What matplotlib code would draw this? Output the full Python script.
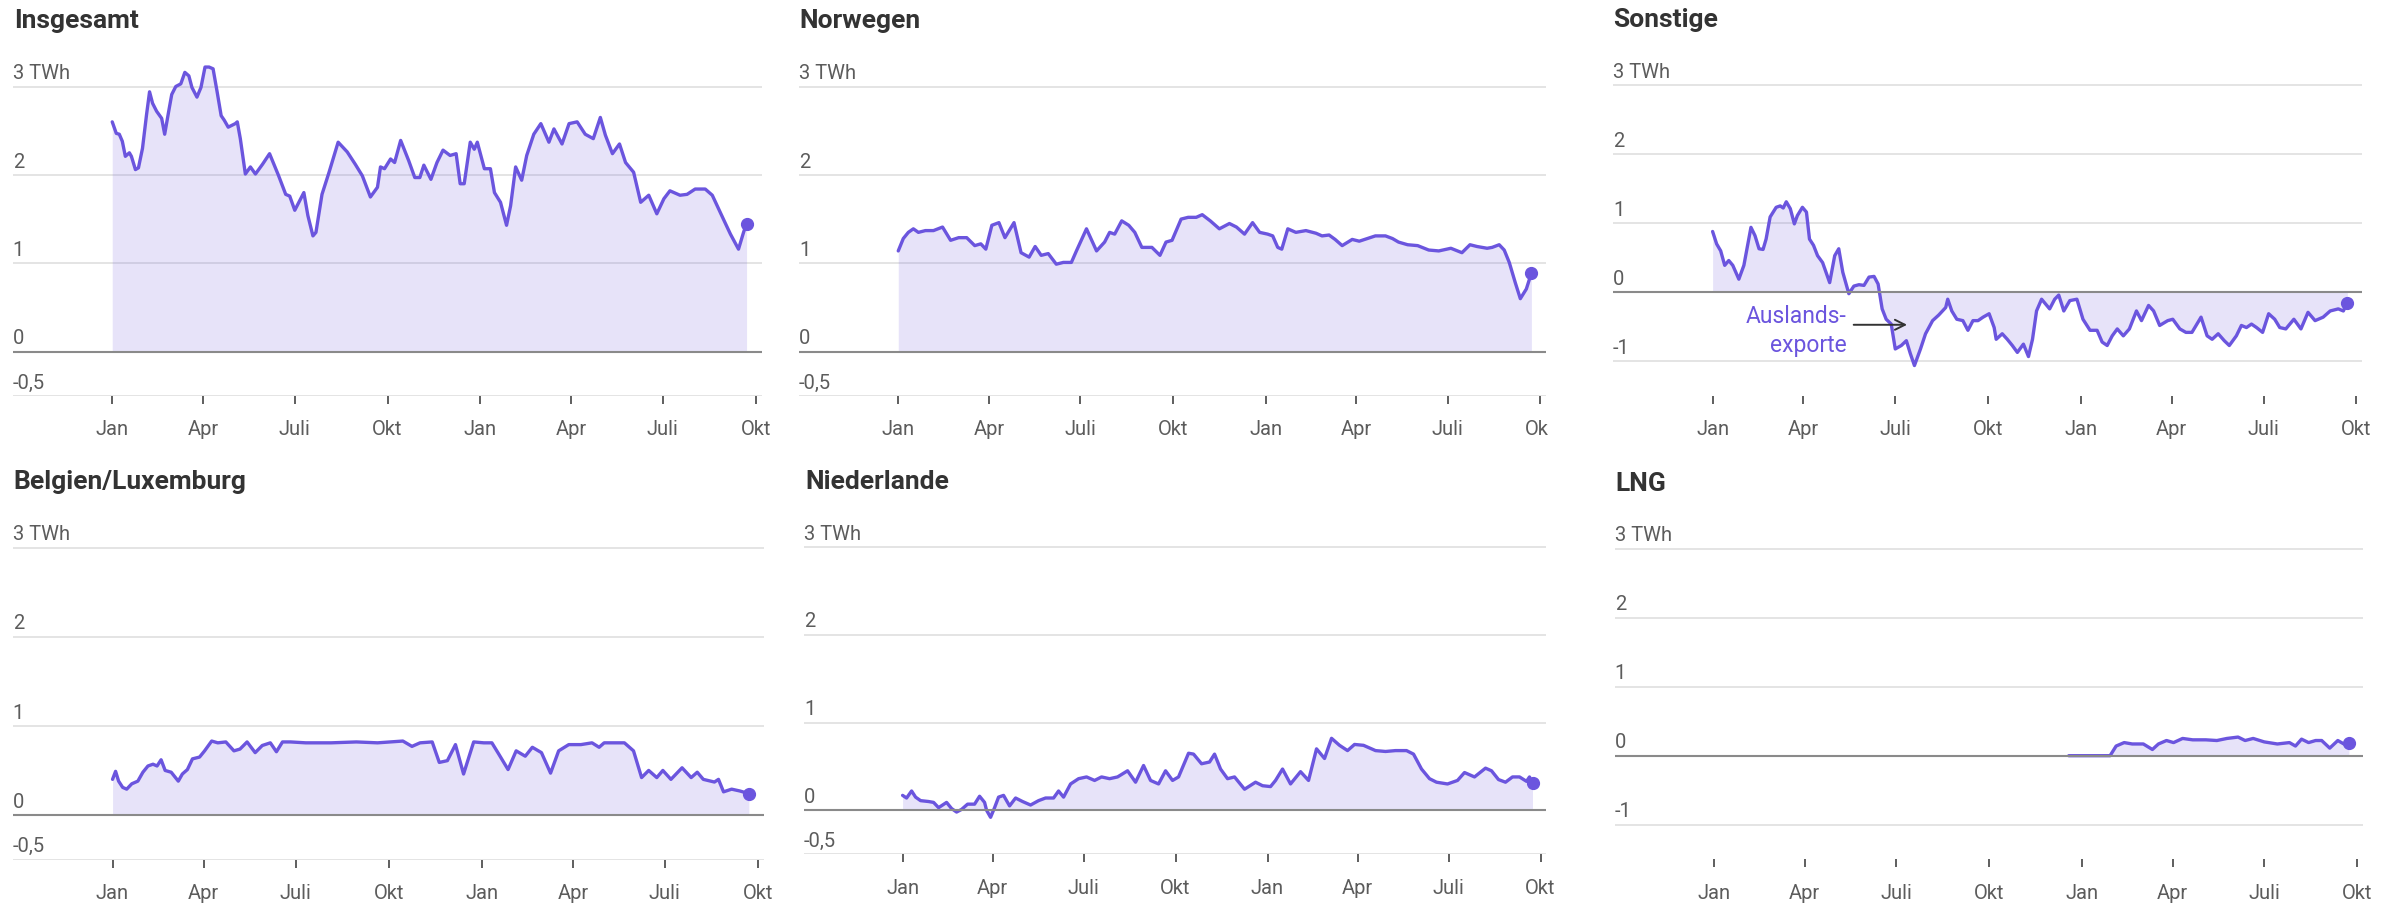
import matplotlib
matplotlib.use('Agg')
import matplotlib.pyplot as plt
from matplotlib.transforms import Bbox
import pandas as pd

plt.rcParams['font.family'] = ['Roboto', 'DejaVu Sans']

START = pd.Timestamp('2022-01-01')

titles = ['Insgesamt', 'Norwegen', 'Sonstige', 'Belgien/Luxemburg', 'Niederlande', 'LNG']

# days since 2022-01-01, values in TWh
ins_days = [0, 4, 7, 10, 13, 17, 19, 23, 26, 30, 34, 37, 40, 44, 49, 52, 56, 59, 63, 68, 72, 76, 79, 84, 88,
            92, 96, 100, 104, 108, 111, 115, 122, 124, 127, 132, 137, 142, 149, 156, 165, 172, 176, 181, 190,
            194, 199, 202, 208, 215, 224, 233, 241, 248, 256, 263, 266, 270, 276, 280, 286, 294, 300, 305, 309,
            316, 322, 328, 335, 341, 345, 349, 355, 359, 362, 369, 375, 379, 385, 391, 395, 400, 406, 411, 418,
            425, 433, 438, 446, 453, 461, 469, 477, 484, 489, 496, 503, 509, 517, 524, 532, 540, 547, 553, 563,
            570, 578, 588, 595, 606, 613, 621, 626, 629]
ins_vals = [2.60, 2.47, 2.46, 2.38, 2.21, 2.25, 2.21, 2.06, 2.08, 2.30, 2.68, 2.94, 2.81, 2.72, 2.64, 2.46, 2.72,
            2.91, 3.00, 3.03, 3.16, 3.12, 2.99, 2.88, 2.99, 3.22, 3.22, 3.20, 2.94, 2.67, 2.62, 2.54, 2.58, 2.60,
            2.41, 2.01, 2.09, 2.01, 2.12, 2.24, 1.99, 1.78, 1.76, 1.60, 1.80, 1.54, 1.31, 1.35, 1.78, 2.03, 2.37,
            2.26, 2.12, 1.99, 1.75, 1.86, 2.09, 2.07, 2.18, 2.14, 2.39, 2.16, 1.97, 1.97, 2.11, 1.95, 2.14, 2.28,
            2.22, 2.24, 1.90, 1.90, 2.37, 2.29, 2.37, 2.07, 2.07, 1.80, 1.69, 1.43, 1.65, 2.09, 1.94, 2.22, 2.46,
            2.58, 2.37, 2.52, 2.35, 2.58, 2.60, 2.46, 2.41, 2.65, 2.45, 2.24, 2.35, 2.14, 2.03, 1.69, 1.77, 1.56,
            1.73, 1.82, 1.77, 1.78, 1.84, 1.84, 1.77, 1.50, 1.33, 1.16, 1.35, 1.45]

nor_days = [0, 5, 10, 15, 20, 27, 35, 44, 52, 60, 68, 76, 82, 87, 93, 100, 106, 115, 122, 130, 136, 142, 149, 157,
            164, 172, 177, 187, 197, 205, 210, 215, 222, 229, 235, 242, 247, 252, 260, 266, 272, 281, 288, 296,
            302, 310, 319, 329, 336, 344, 352, 359, 367, 372, 377, 381, 387, 395, 405, 415, 421, 428, 434, 441,
            451, 458, 466, 474, 484, 491, 497, 506, 516, 527, 537, 549, 560, 568, 575, 585, 590, 597, 602, 607,
            613, 618, 624, 629]
nor_vals = [1.14, 1.28, 1.35, 1.39, 1.35, 1.37, 1.37, 1.41, 1.26, 1.29, 1.29, 1.20, 1.22, 1.16, 1.43, 1.46, 1.29,
            1.46, 1.12, 1.07, 1.19, 1.09, 1.11, 0.99, 1.01, 1.01, 1.14, 1.39, 1.14, 1.24, 1.35, 1.33, 1.48, 1.43,
            1.35, 1.18, 1.18, 1.18, 1.09, 1.24, 1.26, 1.50, 1.52, 1.52, 1.55, 1.48, 1.39, 1.45, 1.41, 1.33, 1.46,
            1.35, 1.33, 1.31, 1.18, 1.16, 1.39, 1.35, 1.37, 1.34, 1.31, 1.32, 1.27, 1.20, 1.27, 1.25, 1.28, 1.31,
            1.31, 1.28, 1.24, 1.21, 1.20, 1.15, 1.14, 1.17, 1.12, 1.21, 1.19, 1.17, 1.18, 1.21, 1.15, 1.01, 0.78,
            0.60, 0.71, 0.89]

son_days = [0, 4, 8, 12, 16, 20, 26, 31, 38, 42, 46, 50, 53, 57, 63, 67, 70, 73, 77, 81, 84, 89, 93, 96, 100, 104,
            109, 116, 121, 125, 129, 135, 140, 145, 150, 155, 160, 164, 168, 172, 177, 181, 187, 192, 196, 200,
            206, 211, 218, 224, 231, 233, 237, 242, 248, 253, 258, 263, 268, 274, 279, 281, 287, 292, 297, 302,
            308, 313, 317, 321, 326, 334, 339, 343, 348, 354, 361, 367, 374, 381, 386, 391, 396, 401, 407, 413,
            420, 425, 432, 437, 443, 451, 456, 463, 469, 475, 484, 490, 495, 501, 507, 512, 519, 524, 529, 534,
            539, 545, 551, 557, 562, 568, 576, 583, 590, 597, 605, 612, 620, 625, 629]
son_vals = [0.88, 0.70, 0.60, 0.39, 0.46, 0.39, 0.19, 0.39, 0.94, 0.82, 0.63, 0.62, 0.77, 1.09, 1.23, 1.25, 1.22,
            1.31, 1.21, 0.99, 1.11, 1.23, 1.16, 0.77, 0.68, 0.53, 0.43, 0.14, 0.53, 0.63, 0.29, -0.02, 0.09, 0.11,
            0.10, 0.22, 0.23, 0.12, -0.24, -0.39, -0.46, -0.82, -0.77, -0.70, -0.89, -1.06, -0.82, -0.60, -0.41,
            -0.33, -0.22, -0.10, -0.27, -0.39, -0.41, -0.55, -0.41, -0.41, -0.36, -0.31, -0.51, -0.68, -0.60,
            -0.68, -0.77, -0.87, -0.75, -0.93, -0.68, -0.27, -0.10, -0.24, -0.10, -0.04, -0.27, -0.12, -0.10,
            -0.39, -0.55, -0.55, -0.72, -0.77, -0.63, -0.53, -0.63, -0.53, -0.27, -0.41, -0.19, -0.27, -0.48,
            -0.41, -0.39, -0.53, -0.58, -0.58, -0.36, -0.63, -0.68, -0.60, -0.70, -0.77, -0.63, -0.48, -0.51,
            -0.46, -0.51, -0.58, -0.31, -0.39, -0.51, -0.53, -0.39, -0.53, -0.29, -0.41, -0.36, -0.27, -0.24,
            -0.27, -0.15]

bel_days = [0, 3, 6, 10, 14, 19, 25, 30, 35, 40, 44, 48, 52, 58, 65, 69, 74, 79, 86, 91, 98, 104, 112, 120, 126,
            133, 141, 148, 156, 162, 168, 176, 191, 216, 241, 262, 287, 296, 304, 316, 323, 331, 339, 347, 357,
            367, 375, 382, 391, 399, 408, 415, 424, 433, 441, 451, 463, 474, 481, 486, 506, 515, 523, 530, 538,
            544, 552, 563, 572, 578, 584, 595, 599, 604, 612, 620, 629]
bel_vals = [0.40, 0.49, 0.38, 0.31, 0.29, 0.35, 0.38, 0.48, 0.55, 0.57, 0.55, 0.62, 0.50, 0.48, 0.38, 0.46, 0.51,
            0.63, 0.65, 0.72, 0.83, 0.81, 0.82, 0.72, 0.74, 0.82, 0.70, 0.78, 0.81, 0.71, 0.82, 0.82, 0.81, 0.81,
            0.82, 0.81, 0.83, 0.77, 0.81, 0.82, 0.59, 0.61, 0.79, 0.46, 0.82, 0.81, 0.81, 0.68, 0.51, 0.72, 0.66,
            0.76, 0.70, 0.47, 0.72, 0.79, 0.79, 0.81, 0.76, 0.81, 0.81, 0.72, 0.42, 0.50, 0.42, 0.50, 0.40, 0.53,
            0.42, 0.48, 0.40, 0.37, 0.40, 0.26, 0.29, 0.27, 0.24]

nld_days = [0, 4, 9, 13, 18, 26, 31, 36, 44, 49, 54, 59, 65, 72, 77, 82, 84, 88, 92, 96, 101, 107, 113, 120, 128,
            136, 143, 151, 156, 161, 168, 176, 184, 192, 199, 207, 215, 225, 233, 241, 248, 256, 263, 270, 276,
            286, 291, 299, 307, 312, 318, 325, 332, 342, 353, 360, 368, 373, 380, 388, 398, 406, 414, 422, 429,
            437, 445, 452, 461, 473, 483, 493, 504, 511, 519, 527, 534, 545, 555, 562, 572, 583, 589, 596, 603,
            610, 617, 624, 627, 630]
nld_vals = [0.17, 0.14, 0.22, 0.15, 0.11, 0.10, 0.09, 0.03, 0.09, 0.02, -0.02, 0.01, 0.07, 0.07, 0.16, 0.09, 0.00,
            -0.08, 0.03, 0.15, 0.17, 0.05, 0.14, 0.10, 0.06, 0.11, 0.14, 0.14, 0.22, 0.15, 0.30, 0.36, 0.38, 0.34,
            0.38, 0.36, 0.38, 0.45, 0.32, 0.51, 0.34, 0.30, 0.45, 0.34, 0.38, 0.65, 0.64, 0.53, 0.55, 0.64, 0.47,
            0.36, 0.38, 0.24, 0.32, 0.28, 0.27, 0.34, 0.47, 0.30, 0.44, 0.34, 0.70, 0.59, 0.82, 0.74, 0.68, 0.75,
            0.74, 0.68, 0.67, 0.68, 0.68, 0.64, 0.47, 0.36, 0.32, 0.30, 0.34, 0.43, 0.38, 0.48, 0.45, 0.35, 0.32,
            0.38, 0.38, 0.33, 0.38, 0.31]

lng_days = [352, 393, 399, 407, 415, 426, 435, 441, 449, 456, 465, 475, 488, 499, 509, 520, 527, 535, 546, 559, 571,
            577, 583, 590, 597, 603, 611, 619, 625, 630]
lng_vals = [0.00, 0.00, 0.14, 0.19, 0.17, 0.17, 0.09, 0.17, 0.22, 0.19, 0.25, 0.23, 0.23, 0.22, 0.25, 0.27, 0.22,
            0.25, 0.20, 0.17, 0.19, 0.14, 0.24, 0.19, 0.22, 0.22, 0.11, 0.22, 0.17, 0.19]

series = [(ins_days, ins_vals), (nor_days, nor_vals), (son_days, son_vals),
          (bel_days, bel_vals), (nld_days, nld_vals), (lng_days, lng_vals)]

tick_dates = ['2022-01-01', '2022-04-01', '2022-07-01', '2022-10-01',
              '2023-01-01', '2023-04-01', '2023-07-01', '2023-10-01']
tick_labels = ['Jan', 'Apr', 'Juli', 'Okt', 'Jan', 'Apr', 'Juli', 'Okt']

y_small = [3, 2, 1, 0, -0.5]
y_small_labels = ['3 TWh', '2', '1', '0', '-0,5']
y_wide = [3, 2, 1, 0, -1]
y_wide_labels = ['3 TWh', '2', '1', '0', '-1']

LINE = '#6b55de'
TITLE_C = '#333333'
LABEL_C = '#5c5c5c'
GRID_C = '#dddddd'
ZERO_C = '#8a8a8a'

W, H = 2405, 904
fig = plt.figure(figsize=(W / 100, H / 100), dpi=100)

# left px, right px, zero-line px (from top), px per TWh, ymin
layout = [
    (12.8, 761.5, 352.7, 88.4, -0.5),
    (799.0, 1546.3, 352.7, 88.4, -0.5),
    (1613.1, 2362.3, 293.3, 69.1, -1.5),
    (12.8, 763.8, 816.0, 89.1, -0.5),
    (804.0, 1546.3, 811.3, 87.8, -0.5),
    (1614.7, 2362.8, 756.7, 69.0, -1.5),
]
title_pos = [(13.8, 28.3), (799.4, 28.3), (1613.0, 27.0), (13.8, 489.3), (805.5, 489.5), (1615.0, 490.7)]
YMAX = 3.3
XLIM = (-98.6, 643.8)
tick_pos = [(pd.Timestamp(d) - START).days for d in tick_dates]

axes = []
for i, (left, right, y0, unit, ymin) in enumerate(layout):
    bottom_px = y0 - ymin * unit
    top_px = y0 - YMAX * unit
    ax = fig.add_axes([left / W, 1 - bottom_px / H, (right - left) / W, (bottom_px - top_px) / H])
    axes.append(ax)
    ax.set_xlim(*XLIM)
    ax.set_ylim(ymin, YMAX)
    for s in ax.spines.values():
        s.set_visible(False)
    ax.set_yticks([])
    ax.patch.set_alpha(0)

    yt, yl = (y_small, y_small_labels) if ymin > -1 else (y_wide, y_wide_labels)
    for v, lab in zip(yt, yl):
        if v == 0:
            ax.axhline(0, color=ZERO_C, lw=1.5, zorder=4)
        else:
            ax.axhline(v, color=GRID_C, lw=1.1, zorder=0)
        ax.annotate(lab, xy=(0, v), xycoords=ax.get_yaxis_transform(), xytext=(0, 6.0),
                    textcoords='offset points', ha='left', va='baseline', fontsize=14.5, color=LABEL_C)

    d, v = series[i]
    ax.fill_between(d, v, 0, color=LINE, alpha=0.16, lw=0, zorder=1)
    ax.plot(d, v, color=LINE, lw=2.4, zorder=3, solid_joinstyle='round', solid_capstyle='round')
    ax.plot(d[-1], v[-1], 'o', color=LINE, ms=8.5, zorder=5)

    ax.set_xticks(tick_pos)
    ax.set_xticklabels(tick_labels)
    ax.tick_params(axis='x', direction='out', length=5.8, width=1.1, color='#333333',
                   pad=11.0, labelsize=14.5, labelcolor=LABEL_C)

    tx, ty = title_pos[i]
    fig.text(tx / W, 1 - ty / H, titles[i], fontsize=19, fontweight='bold', color=TITLE_C,
             ha='left', va='baseline')

# annotation in "Sonstige"
ax3 = axes[2]
ax3.text(133, -0.425, 'Auslands-', ha='right', va='baseline', fontsize=16.5, color=LINE, zorder=6)
ax3.text(133, -0.845, 'exporte', ha='right', va='baseline', fontsize=16.5, color=LINE, zorder=6)
ax3.annotate('', xy=(192.7, -0.47), xytext=(139.8, -0.47),
             arrowprops=dict(arrowstyle='->', color='#333333', lw=1.4, mutation_scale=18,
                             shrinkA=0, shrinkB=0), zorder=6)

# the last tick label of "Norwegen" is cut at the panel edge
lab = axes[1].xaxis.get_majorticklabels()[-1]
lab.set_clip_on(True)
lab.set_clip_box(Bbox.from_extents(0, 0, 1548, H))

fig.savefig('out.png', dpi=100)
